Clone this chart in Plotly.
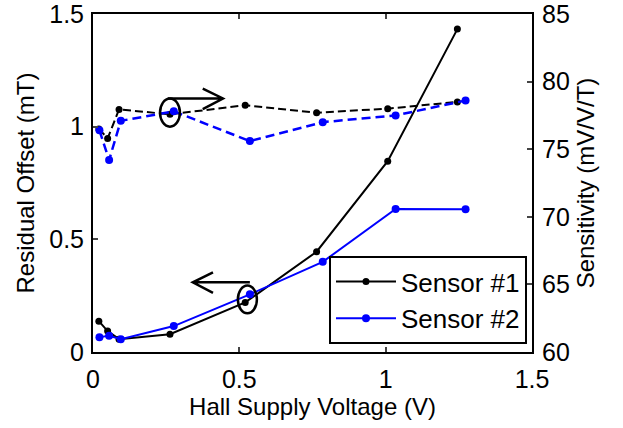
import plotly.graph_objects as go

# Hall supply voltage (V)
v1 = [0.02, 0.05, 0.089, 0.263, 0.52, 0.764, 1.007, 1.245]
v2 = [0.022, 0.055, 0.095, 0.276, 0.536, 0.785, 1.034, 1.273]

# Residual offset (mT) - left axis
offset1 = [0.137, 0.093, 0.057, 0.079, 0.22, 0.445, 0.847, 1.433]
offset2 = [0.066, 0.072, 0.057, 0.115, 0.256, 0.40, 0.635, 0.633]

# Sensitivity (mV/V/T) - right axis
sens1 = [76.5, 75.8, 77.94, 77.58, 78.25, 77.7, 78.0, 78.5]
sens2 = [76.4, 74.2, 77.1, 77.8, 75.6, 77.0, 77.5, 78.6]

names = ["Sensor #1", "Sensor #2"]

FONT = "Liberation Sans, Arial, sans-serif"
BLUE = "#0000ff"
FS = 25
LFS = 26
TFS = 24

fig = go.Figure()

fig.add_trace(go.Scatter(x=v1, y=sens1, yaxis="y2", mode="lines+markers",
                         line=dict(color="black", width=2, dash="8px,4px"),
                         marker=dict(color="black", size=7), showlegend=False))
fig.add_trace(go.Scatter(x=v2, y=sens2, yaxis="y2", mode="lines+markers",
                         line=dict(color=BLUE, width=2.5, dash="9px,5px"),
                         marker=dict(color=BLUE, size=8), showlegend=False))
fig.add_trace(go.Scatter(x=v1, y=offset1, mode="lines+markers", name=names[0],
                         line=dict(color="black", width=2),
                         marker=dict(color="black", size=7)))
fig.add_trace(go.Scatter(x=v2, y=offset2, mode="lines+markers", name=names[1],
                         line=dict(color=BLUE, width=2),
                         marker=dict(color=BLUE, size=8)))

# Annotation ellipses and arrows (left-axis data coords)
shapes = [
    dict(type="circle", xref="x", yref="y", x0=0.229, x1=0.297, y0=1.0, y1=1.125,
         line=dict(color="black", width=2.5)),
    dict(type="path", xref="x", yref="y",
         path="M 0.256 1.125 L 0.444 1.125 M 0.375 1.169 L 0.444 1.125 L 0.375 1.078",
         line=dict(color="black", width=2.5)),
    dict(type="circle", xref="x", yref="y", x0=0.495, x1=0.56, y0=0.172, y1=0.295,
         line=dict(color="black", width=2.5)),
    dict(type="path", xref="x", yref="y",
         path="M 0.536 0.309 L 0.341 0.309 M 0.41 0.353 L 0.341 0.309 L 0.41 0.262",
         line=dict(color="black", width=2.5)),
]

fig.update_layout(
    width=623, height=428,
    margin=dict(l=93, r=91, t=14, b=76),
    paper_bgcolor="white", plot_bgcolor="white",
    font=dict(family=FONT, size=FS, color="black"),
    shapes=shapes,
    xaxis=dict(range=[0, 1.5], dtick=0.5, ticks="inside", ticklen=5, tickwidth=2,
               showline=True, linewidth=2, linecolor="black", mirror="ticks",
               showgrid=False, zeroline=False, tickfont=dict(size=FS),
               ticklabelstandoff=4, automargin=False, ticklabeloverflow="allow",
               title=dict(text="Hall Supply Voltage (V)", font=dict(size=TFS), standoff=0)),
    yaxis=dict(range=[0, 1.5], dtick=0.5, ticks="inside", ticklen=5, tickwidth=2,
               showline=True, linewidth=2, linecolor="black",
               showgrid=False, zeroline=False, tickfont=dict(size=FS),
               ticklabelstandoff=2, automargin=False, ticklabeloverflow="allow",
               title=dict(text="Residual Offset (mT)", font=dict(size=TFS), standoff=8)),
    yaxis2=dict(range=[60, 85], dtick=5, ticks="inside", ticklen=5, tickwidth=2,
                overlaying="y", side="right", anchor="x",
                showline=True, linewidth=2, linecolor="black",
                showgrid=False, zeroline=False, tickfont=dict(size=FS),
                ticklabelstandoff=3, automargin=False, ticklabeloverflow="allow",
                title=dict(text="Sensitivity (mV/V/T)", font=dict(size=TFS), standoff=8)),
    legend=dict(x=0.9886, y=0.0235, xanchor="right", yanchor="bottom",
                bgcolor="white", bordercolor="black", borderwidth=2,
                font=dict(size=LFS), tracegroupgap=0, itemwidth=60),
)

fig.write_html("out.html", config={"displayModeBar": False},
               post_script="document.body.style.margin='0';")
